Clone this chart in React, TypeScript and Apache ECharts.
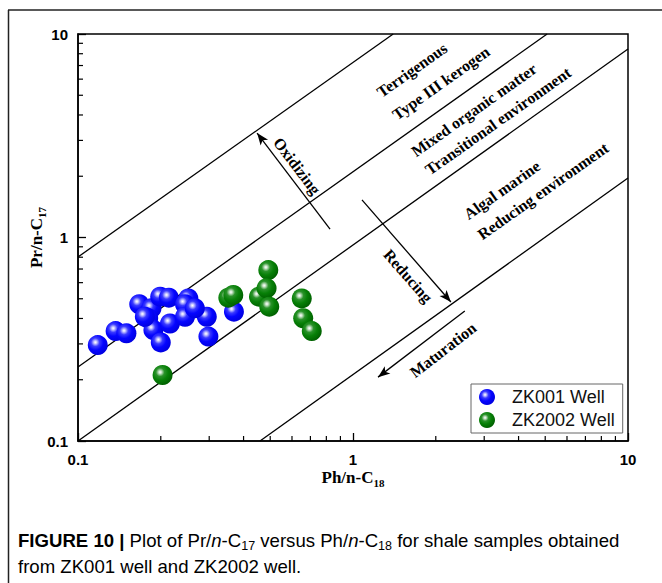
import React, { useEffect, useRef } from "react";
import * as echarts from "echarts";

// Sample values: Ph/n-C18 (x) and Pr/n-C17 (y)
const zk001Ph = [0.118, 0.137, 0.150, 0.167, 0.185, 0.180, 0.199, 0.214, 0.188, 0.200, 0.216, 0.252, 0.245, 0.245, 0.294, 0.298, 0.369, 0.175, 0.266];
const zk001Pr = [0.296, 0.347, 0.338, 0.470, 0.449, 0.401, 0.512, 0.506, 0.351, 0.305, 0.378, 0.502, 0.470, 0.408, 0.408, 0.326, 0.432, 0.408, 0.449];
const zk2002Ph = [0.203, 0.352, 0.367, 0.455, 0.492, 0.485, 0.496, 0.651, 0.659, 0.708];
const zk2002Pr = [0.211, 0.506, 0.522, 0.512, 0.692, 0.563, 0.457, 0.502, 0.401, 0.347];

// Zone boundary lines (end points in data units)
const boundaryA = [[0.1, 0.802], [1.4, 10]];
const boundaryB = [[0.1, 0.231], [5.08, 10]];
const boundaryC = [[0.1, 0.1], [10, 8.44]];
const boundaryD = [[0.459, 0.1], [10, 1.96]];

// Trend arrows (start, end) in data units
const oxidizingArrow = [[0.825, 1.1], [0.448, 3.26]];
const reducingArrow = [[1.078, 1.53], [2.27, 0.482]];
const maturationArrow = [[2.55, 0.435], [1.233, 0.206]];

// Minor tick values on both log axes
const minorTicks = [0.2, 0.3, 0.4, 0.5, 0.6, 0.7, 0.8, 0.9, 2, 3, 4, 5, 6, 7, 8, 9];

const SERIF = "'Liberation Serif', 'Times New Roman', serif";
const SANS = "'Liberation Sans', Arial, sans-serif";

const sphere = (stops: string[]) => ({
  type: "radial",
  x: 0.38,
  y: 0.36,
  r: 0.66,
  colorStops: [
    { offset: 0, color: stops[0] },
    { offset: 0.1, color: stops[1] },
    { offset: 0.32, color: stops[2] },
    { offset: 0.6, color: stops[3] },
    { offset: 1, color: stops[4] },
  ],
});

const blueSphere = sphere(["#ffffff", "#d0d0ff", "#3a3aff", "#0505ff", "#0000e0"]);
const greenSphere = sphere(["#ffffff", "#cfe6cf", "#2a922a", "#078007", "#006000"]);

const zip = (a: number[], b: number[]) => a.map((v, i) => [v, b[i]]);

const boundarySeries = (data: number[][], extra: any = {}) => ({
  type: "line",
  data,
  symbol: "none",
  silent: true,
  z: 2,
  lineStyle: { color: "#000", width: 1.3 },
  ...extra,
});

const arrowLine = (pts: number[][]) => [{ coord: pts[0] }, { coord: pts[1] }];

const minorTickSeries = (axis: "x" | "y") => ({
  type: "custom",
  coordinateSystem: "cartesian2d",
  silent: true,
  clip: false,
  z: 3,
  data: minorTicks.map((v) => (axis === "x" ? [v, 0.1] : [0.1, v])),
  renderItem: (_params: any, api: any) => {
    const p = api.coord([api.value(0), api.value(1)]);
    return {
      type: "line",
      shape:
        axis === "x"
          ? { x1: p[0], y1: p[1], x2: p[0], y2: p[1] - 5 }
          : { x1: p[0], y1: p[1], x2: p[0] + 5, y2: p[1] },
      style: { stroke: "#000", lineWidth: 1.2 },
    };
  },
});

const zoneText = (text: string, x: number, y: number, rotation: number) => ({
  type: "text",
  x,
  y,
  rotation,
  silent: true,
  style: {
    text,
    fill: "#000",
    font: `bold 16px ${SERIF}`,
    align: "center",
    verticalAlign: "middle",
  },
});

const nameRich = {
  a: { fontFamily: SERIF, fontWeight: "bold", fontSize: 17, color: "#000", lineHeight: 22, verticalAlign: "middle" },
  s: { fontFamily: SERIF, fontWeight: "bold", fontSize: 11, color: "#000", lineHeight: 12, verticalAlign: "bottom" },
};

const CAP = 18.6;
const capRich = {
  b: { fontFamily: SANS, fontWeight: "bold", fontSize: CAP, color: "#333", lineHeight: 24, verticalAlign: "middle" },
  r: { fontFamily: SANS, fontSize: CAP, color: "#333", lineHeight: 24, verticalAlign: "middle" },
  i: { fontFamily: SANS, fontStyle: "italic", fontSize: CAP, color: "#333", lineHeight: 24, verticalAlign: "middle" },
  s: { fontFamily: SANS, fontSize: 12.5, color: "#333", lineHeight: 13, verticalAlign: "bottom" },
};

export default function App() {
  const ref = useRef<HTMLDivElement>(null);

  useEffect(() => {
    document.body.style.margin = "0";
    if (!ref.current) return;
    const chart = echarts.init(ref.current, null, { renderer: "svg" });

    const option: any = {
      animation: false,
      backgroundColor: "#fff",
      grid: {
        left: 78,
        right: 34,
        top: 34,
        bottom: 142,
        show: true,
        borderColor: "#000",
        borderWidth: 1.5,
      },
      xAxis: {
        type: "log",
        logBase: 10,
        min: 0.1,
        max: 10,
        name: "{a|Ph/n-C}{s|18}",
        nameLocation: "middle",
        nameGap: 25,
        nameMoveOverlap: false,
        nameTextStyle: { rich: nameRich },
        axisLine: { lineStyle: { color: "#000", width: 1.5 } },
        axisTick: { inside: true, length: 8, lineStyle: { color: "#000", width: 1.3 } },
        axisLabel: { fontFamily: SANS, fontWeight: "bold", fontSize: 15, color: "#000", margin: 11 },
        splitLine: { show: false },
      },
      yAxis: {
        type: "log",
        logBase: 10,
        min: 0.1,
        max: 10,
        name: "{a|Pr/n-C}{s|17}",
        nameLocation: "middle",
        nameRotate: 90,
        nameGap: 31,
        nameMoveOverlap: false,
        nameTextStyle: { rich: nameRich },
        axisLine: { lineStyle: { color: "#000", width: 1.5 } },
        axisTick: { inside: true, length: 8, lineStyle: { color: "#000", width: 1.3 } },
        axisLabel: { fontFamily: SANS, fontWeight: "bold", fontSize: 15, color: "#000", margin: 10 },
        splitLine: { show: false },
      },
      legend: {
        data: ["ZK001 Well", "ZK2002 Well"],
        orient: "vertical",
        left: 471,
        top: 384,
        padding: [4, 8, 4, 8],
        itemWidth: 16,
        itemHeight: 16,
        itemGap: 5,
        icon: "circle",
        backgroundColor: "#fff",
        borderColor: "#666",
        borderWidth: 1,
        textStyle: { fontFamily: SANS, fontSize: 18, color: "#111", lineHeight: 18, padding: [0, 0, 0, 12] },
      },
      series: [
        boundarySeries(boundaryA, {
          markLine: {
            silent: true,
            symbol: ["none", "arrow"],
            symbolSize: [7, 12],
            label: { show: false },
            lineStyle: { color: "#000", width: 1.3, type: "solid" },
            emphasis: { disabled: true },
            data: [arrowLine(oxidizingArrow), arrowLine(reducingArrow), arrowLine(maturationArrow)],
          },
        }),
        boundarySeries(boundaryB),
        boundarySeries(boundaryC),
        boundarySeries(boundaryD),
        minorTickSeries("x"),
        minorTickSeries("y"),
        {
          name: "ZK001 Well",
          type: "scatter",
          data: zip(zk001Ph, zk001Pr),
          symbol: "circle",
          symbolSize: 20,
          z: 5,
          itemStyle: { color: blueSphere, opacity: 1 },
        },
        {
          name: "ZK2002 Well",
          type: "scatter",
          data: zip(zk2002Ph, zk2002Pr),
          symbol: "circle",
          symbolSize: 20,
          z: 6,
          itemStyle: { color: greenSphere, opacity: 1 },
        },
      ],
      graphic: [
        // figure frame
        { type: "line", silent: true, shape: { x1: 8.5, y1: 10, x2: 8.5, y2: 583 }, style: { stroke: "#222", lineWidth: 1.5 } },
        { type: "line", silent: true, shape: { x1: 8, y1: 10, x2: 662, y2: 10 }, style: { stroke: "#222", lineWidth: 1.5 } },
        // zone labels
        zoneText("Terrigenous", 412, 70, 0.615),
        zoneText("Type III kerogen", 441, 83, 0.615),
        zoneText("Mixed organic matter", 474, 110, 0.615),
        zoneText("Transitional environment", 498, 121, 0.615),
        zoneText("Algal marine", 502, 190, 0.615),
        zoneText("Reducing environment", 543, 191, 0.615),
        // arrow labels
        zoneText("Oxidizing", 297, 166, -0.92),
        zoneText("Reducing", 408, 276, -0.85),
        zoneText("Maturation", 443, 350, 0.66),
        // caption
        {
          type: "text",
          x: 18,
          y: 540,
          silent: true,
          style: {
            text: "{b|FIGURE 10 |}{r| Plot of Pr/}{i|n}{r|-C}{s|17}{r| versus Ph/}{i|n}{r|-C}{s|18}{r| for shale samples obtained}",
            rich: capRich,
            align: "left",
            verticalAlign: "middle",
          },
        },
        {
          type: "text",
          x: 18,
          y: 566,
          silent: true,
          style: {
            text: "{r|from ZK001 well and ZK2002 well.}",
            rich: capRich,
            align: "left",
            verticalAlign: "middle",
          },
        },
      ],
    };

    chart.setOption(option);
    return () => chart.dispose();
  }, []);

  return <div ref={ref} style={{ width: 662, height: 583 }} />;
}
